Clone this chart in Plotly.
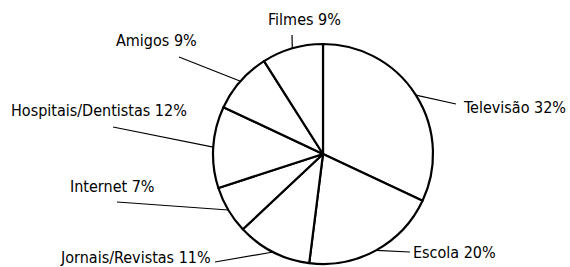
import math
import plotly.graph_objects as go

categories = ["Televisão", "Escola", "Jornais/Revistas", "Internet",
              "Hospitais/Dentistas", "Amigos", "Filmes"]
values = [32, 20, 11, 7, 12, 9, 9]
tick_labels = [f"{c} {v}%" for c, v in zip(categories, values)]

W, H = 570, 267
CX, CY, R = 323, 154, 110  # pie centre / radius in pixels (from top)

# label layout: (anchor x px, centre y px, xanchor), leader end (px)
label_pos = [(461, 107, "left"), (411, 252, "left"), (213, 257, "right"),
             (68, 186, "left"), (9, 110, "left"), (114, 41, "left"),
             (266, 20, "left")]
leader_end = [(456, 104), (410, 252), (215, 262), (117, 202),
              (113, 127), (179, 57), (292, 35)]

FONT = "DejaVu Sans Condensed, Liberation Sans Narrow, sans-serif"

fig = go.Figure(go.Pie(
    labels=categories, values=values, sort=False, direction="clockwise",
    rotation=0, textinfo="none", hoverinfo="none", showlegend=False,
    marker=dict(colors=["white"] * len(values), line=dict(color="black", width=2.2)),
    domain=dict(x=[(CX - R) / W, (CX + R) / W],
                y=[(H - CY - R) / H, (H - CY + R) / H]),
))

total = sum(values)
cum = 0
shapes, annotations = [], []
for lab, v, (lx, ly, xa), (ex, ey) in zip(tick_labels, values, label_pos, leader_end):
    mid = (cum + v / 2) / total * 2 * math.pi
    cum += v
    px = CX + R * math.sin(mid)
    py = CY - R * math.cos(mid)
    shapes.append(dict(type="line", xref="paper", yref="paper",
                       x0=px / W, y0=1 - py / H, x1=ex / W, y1=1 - ey / H,
                       line=dict(color="black", width=1.2)))
    annotations.append(dict(text=lab, x=lx / W, y=1 - ly / H, xref="paper", yref="paper",
                            xanchor=xa, yanchor="middle", showarrow=False,
                            font=dict(family=FONT, size=16, color="black")))

fig.update_layout(width=W, height=H, margin=dict(l=0, r=0, t=0, b=0),
                  paper_bgcolor="white", plot_bgcolor="white",
                  shapes=shapes, annotations=annotations)
fig.write_html("out.html", config={"displayModeBar": False},
               post_script="document.body.style.margin='0';document.body.style.overflow='hidden';")
